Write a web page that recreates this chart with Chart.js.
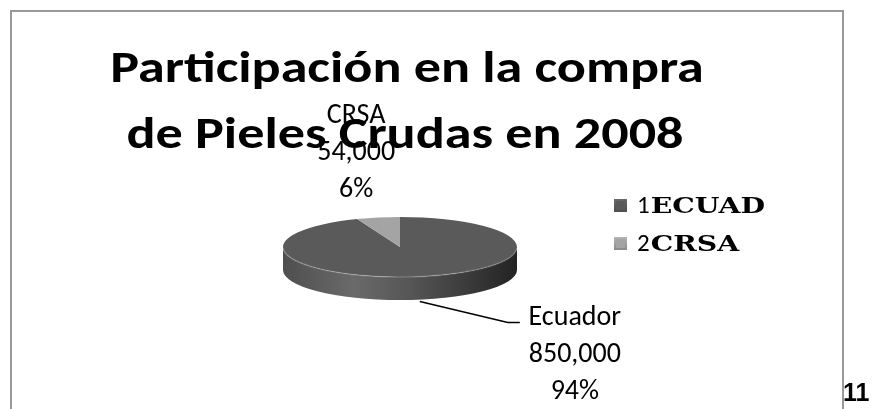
<!DOCTYPE html>
<html>
<head>
<meta charset="utf-8">
<script src="https://cdn.jsdelivr.net/npm/chart.js@4"></script>
<style>
  body { margin: 0; background: #fff; }
  #wrap { position: relative; width: 879px; height: 409px; overflow: hidden; }
  #frame { position: absolute; left: 10px; top: 10px; width: 830px; height: 420px;
           border: 2px solid #999; border-bottom: none; }
  #page { position: absolute; left: 843px; top: 378px; font: bold 25px "Liberation Sans", Arial, sans-serif; color: #000; }
  canvas { position: absolute; left: 0; top: 0; }
</style>
</head>
<body>
<div id="wrap">
  <div id="frame"></div>
  <canvas id="pieChart" width="879" height="409"></canvas>
  <div id="page">11</div>
</div>
<script>
// data
const categories = ['Ecuador', 'CRSA'];          // names shown in the data labels
const legendLabels = ['1ECUAD', '2CRSA'];        // names shown in the legend
const purchases = [850000, 54000];               // pieles crudas compradas
const titleLines = ['Participación en la compra', 'de Pieles Crudas en 2008'];

const topColors = ['#5a5a5a', '#a4a4a4'];
const sideStops = [
  ['#4e4e4e', '#6a6a6a', '#555555', '#232323'],
  ['#8a8a8a', '#b5b5b5', '#9a9a9a', '#6a6a6a']
];

const SQUASH = 30 / 117;   // height/width of the pie top
const DEPTH = 23;          // thickness of the pie

const total = purchases.reduce((a, b) => a + b, 0);
const fmt = v => v.toLocaleString('en-US');
const pct = v => Math.round(v / total * 100) + '%';

// text drawn a little wider, like the stretched slide
function wideText(ctx, text, x, y, sx) {
  ctx.save();
  ctx.translate(x, y);
  ctx.scale(sx, 1);
  ctx.fillText(text, 0, 0);
  ctx.restore();
}

const pie3d = {
  id: 'pie3d',
  beforeDatasetsDraw(chart) {
    const ctx = chart.ctx;
    const meta = chart.getDatasetMeta(0);
    const first = meta.data[0];
    const cx = first.x, cy = first.y, r = first.outerRadius, ry = r * SQUASH;

    // side wall (front half only)
    meta.data.forEach((el, i) => {
      const s = sideStops[i];
      const g = ctx.createLinearGradient(cx - r, 0, cx + r, 0);
      g.addColorStop(0, s[0]); g.addColorStop(0.3, s[1]);
      g.addColorStop(0.55, s[2]); g.addColorStop(1, s[3]);
      for (let k = -1; k <= 1; k++) {
        const a = Math.max(el.startAngle, 2 * Math.PI * k);
        const b = Math.min(el.endAngle, 2 * Math.PI * k + Math.PI);
        if (b <= a) continue;
        ctx.beginPath();
        ctx.ellipse(cx, cy, r, ry, 0, a, b);
        ctx.ellipse(cx, cy + DEPTH, r, ry, 0, b, a, true);
        ctx.closePath();
        ctx.fillStyle = g;
        ctx.fill();
      }
    });

    // squash the top face
    ctx.save();
    ctx.translate(cx, cy);
    ctx.scale(1, SQUASH);
    ctx.translate(-cx, -cy);
  },
  afterDatasetsDraw(chart) {
    const ctx = chart.ctx;
    ctx.restore();

    const meta = chart.getDatasetMeta(0);
    const first = meta.data[0];
    const cx = first.x, cy = first.y, r = first.outerRadius, ry = r * SQUASH;

    // faint rim highlight
    ctx.save();
    ctx.beginPath();
    ctx.ellipse(cx, cy, r, ry, 0, 0.05, Math.PI - 0.05);
    ctx.strokeStyle = 'rgba(255,255,255,0.18)';
    ctx.lineWidth = 1.5;
    ctx.stroke();
    ctx.restore();

    // title
    ctx.save();
    ctx.fillStyle = '#000';
    ctx.textAlign = 'center';
    ctx.textBaseline = 'alphabetic';
    ctx.font = 'bold 44px Carlito, Lato, sans-serif';
    wideText(ctx, titleLines[0], 407, 82, 1.23);
    wideText(ctx, titleLines[1], 405, 148, 1.23);
    ctx.restore();

    // data labels
    ctx.save();
    ctx.fillStyle = '#000';
    ctx.textAlign = 'center';
    ctx.font = '28px Carlito, Lato, sans-serif';
    const lineH = 37;

    // CRSA label above the back slice
    const crsa = meta.data[1];
    const midC = (crsa.startAngle + crsa.endAngle) / 2;
    const lxC = cx + Math.cos(midC) * r - 22;
    const lyC = cy + Math.sin(midC) * ry - 95;
    [categories[1], fmt(purchases[1]), pct(purchases[1])].forEach((t, j) => {
      ctx.fillText(t, lxC, lyC + j * lineH);
    });

    // Ecuador label with leader line
    const ecu = meta.data[0];
    const midE = (ecu.startAngle + ecu.endAngle) / 2;
    const px = cx + Math.cos(midE) * r;
    const py = cy + Math.sin(midE) * ry + DEPTH;
    ctx.beginPath();
    ctx.moveTo(px - 2, py + 2);
    ctx.lineTo(px + 86, py + 23);
    ctx.lineTo(px + 98, py + 23);
    ctx.strokeStyle = '#000';
    ctx.lineWidth = 1.5;
    ctx.stroke();
    const lxE = px + 153, lyE = py + 26;
    [categories[0], fmt(purchases[0]), pct(purchases[0])].forEach((t, j) => {
      ctx.fillText(t, lxE, lyE + j * lineH);
    });
    ctx.restore();

    // legend
    ctx.save();
    legendLabels.forEach((lab, i) => {
      const bx = 614, by = 199 + i * 38, bs = 13;
      const g = ctx.createLinearGradient(bx, by, bx, by + bs);
      g.addColorStop(0, sideStops[i][1]);
      g.addColorStop(1, sideStops[i][0]);
      ctx.fillStyle = g;
      ctx.fillRect(bx, by, bs, bs);
      ctx.fillStyle = topColors[i];
      ctx.fillRect(bx + 2, by + 2, bs - 4, bs - 4);
      ctx.fillStyle = '#000';
      ctx.textBaseline = 'alphabetic';
      ctx.textAlign = 'left';
      ctx.font = '25px Carlito, Lato, sans-serif';
      const num = lab.charAt(0);
      ctx.fillText(num, 637, by + 14);
      const w = ctx.measureText(num).width;
      ctx.font = 'bold 23px "DejaVu Serif", serif';
      wideText(ctx, lab.slice(1), 637 + w + 1, by + 14, 1.23);
    });
    ctx.restore();
  }
};

new Chart(document.getElementById('pieChart'), {
  type: 'pie',
  data: {
    labels: legendLabels,
    datasets: [{
      data: purchases,
      backgroundColor: topColors,
      borderWidth: 0
    }]
  },
  options: {
    responsive: false,
    animation: false,
    devicePixelRatio: 1,
    layout: { padding: { left: 283, right: 362, top: 130, bottom: 45 } },
    plugins: {
      legend: { display: false },
      title: { display: false },
      tooltip: { enabled: false }
    }
  },
  plugins: [pie3d]
});
</script>
</body>
</html>
